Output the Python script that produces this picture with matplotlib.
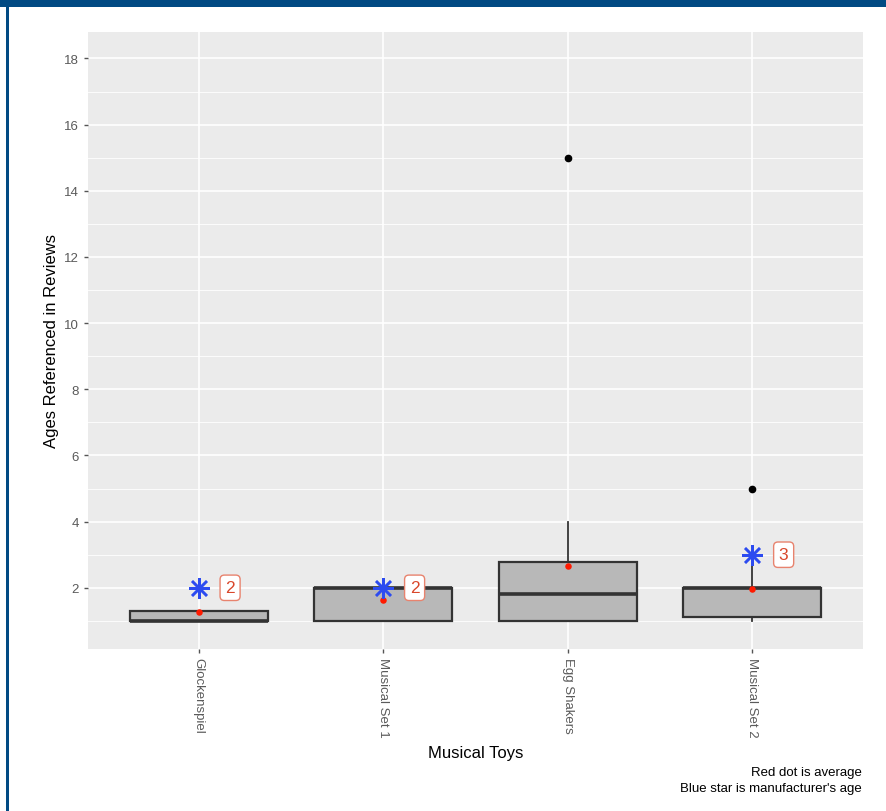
import matplotlib
matplotlib.use("Agg")
import matplotlib.pyplot as plt
from matplotlib.patches import Rectangle

plt.rcParams['font.family'] = ['Liberation Sans', 'DejaVu Sans']

categories = ["Glockenspiel", "Musical Set 1", "Egg Shakers", "Musical Set 2"]
q1 = [1.0, 1.0, 1.0, 1.12]
median = [1.0, 2.0, 1.81, 2.0]
q3 = [1.3, 2.0, 2.78, 2.0]
whisk_lo = [1.0, 1.0, 1.0, 1.0]
whisk_hi = [1.3, 2.0, 4.0, 3.0]
outliers = [[], [], [15.0], [5.0]]
means = [1.27, 1.63, 2.66, 1.97]
manufacturer_age = [2, 2, None, 3]

fig = plt.figure(figsize=(8.86, 8.12), dpi=100)
ax = fig.add_axes([88/886, 1-650/812, (863-88)/886, (650-33)/812])
ax.set_facecolor("#EBEBEB")

positions = list(range(1, len(categories)+1))
stats = []
for i in range(len(categories)):
    stats.append(dict(med=median[i], q1=q1[i], q3=q3[i], whislo=whisk_lo[i],
                      whishi=whisk_hi[i], fliers=outliers[i], label=categories[i]))

ax.bxp(stats, positions=positions, widths=0.75, patch_artist=True, showcaps=False,
       boxprops=dict(facecolor="#B8B8B8", edgecolor="#333333", linewidth=1.6),
       medianprops=dict(color="#333333", linewidth=2.6),
       whiskerprops=dict(color="#333333", linewidth=1.3),
       flierprops=dict(marker='o', markerfacecolor='black', markeredgecolor='black', markersize=4.5),
       zorder=3)

ax.scatter(positions, means, color="#FF1A00", s=22, zorder=5, linewidths=0)

for p, a in zip(positions, manufacturer_age):
    if a is None:
        continue
    ax.plot([p], [a], marker=(8, 2, 0), markersize=15, markeredgewidth=1.8,
            color="#2C4BF0", zorder=6, linestyle='none')
    ax.text(p + 0.17, a, str(a), color="#D9472B", fontsize=12.5, ha='center', va='center',
            zorder=7,
            bbox=dict(boxstyle="round,pad=0.3,rounding_size=0.25", fc="white",
                      ec="#E8836E", lw=1.0))

ax.set_xlim(0.4, 4.6)
ax.set_ylim(0.15, 18.8)
ax.set_yticks([2, 4, 6, 8, 10, 12, 14, 16, 18])
ax.set_yticks([1, 3, 5, 7, 9, 11, 13, 15, 17], minor=True)
ax.set_xticks(positions)
ax.set_xticklabels(categories, rotation=270, fontsize=9.5, color="#5A5A5A")
ax.tick_params(axis='y', labelsize=9.5, labelcolor="#5A5A5A", length=3, color="#555555", width=1)
ax.tick_params(axis='x', length=3, color="#555555", width=1, pad=3)
ax.tick_params(which='minor', length=0)
ax.grid(which='major', color='white', linewidth=1.2, zorder=0)
ax.grid(which='minor', axis='y', color='white', linewidth=0.6, zorder=0)
ax.set_axisbelow(True)
for s in ax.spines.values():
    s.set_visible(False)

ax.set_xlabel("Musical Toys", fontsize=12, color="black", labelpad=6)
ax.set_ylabel("Ages Referenced in Reviews", fontsize=12, color="black", labelpad=4)

fig.text(862/886, 1-773/812, "Red dot is average", ha='right', va='center', fontsize=9.5)
fig.text(862/886, 1-789/812, "Blue star is manufacturer's age", ha='right', va='center', fontsize=9.5)

fig.patches.append(Rectangle((0, 1-8/812), 1, 8/812, transform=fig.transFigure,
                             facecolor="#014A83", edgecolor='none'))
fig.patches.append(Rectangle((6/886, 0), 2.5/886, 1, transform=fig.transFigure,
                             facecolor="#014A83", edgecolor='none'))

fig.savefig("out.png", dpi=100)
